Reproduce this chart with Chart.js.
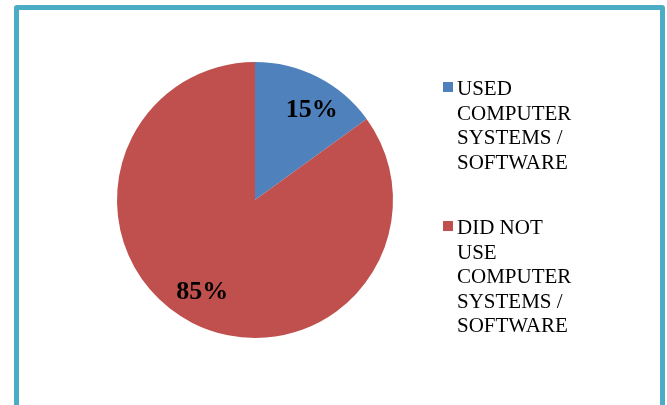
<!DOCTYPE html>
<html>
<head>
<meta charset="utf-8">
<script src="https://cdn.jsdelivr.net/npm/chart.js@4"></script>
<style>
  html, body { margin: 0; padding: 0; background: #ffffff; }
  #wrap { position: relative; width: 667px; height: 405px; overflow: hidden; background: #fff; }
  #frame { position: absolute; left: 14px; top: 5px; width: 641px; height: 440px;
           border: 5px solid #4BACC6; border-radius: 3px; box-sizing: content-box; }
  canvas { position: absolute; left: 0; top: 0; }
  .probe { font-family: "Liberation Serif"; position: absolute; left: -999px; }
</style>
</head>
<body>
<div id="wrap">
  <div id="frame"></div>
  <canvas id="c" width="667" height="405"></canvas>
</div>
<span class="probe">x</span><b class="probe">x</b>
<script>
// ---- data ----
const categories = ["USED COMPUTER SYSTEMS / SOFTWARE", "DID NOT USE COMPUTER SYSTEMS / SOFTWARE"];
const shares = [15, 85];
const valueLabels = ["15%", "85%"];
const sliceColors = ["#4F81BD", "#C0504D"];

const serif = '"Liberation Serif", "Times New Roman", Times, serif';

function wrapWords(ctx, text, maxW) {
  const words = text.split(" ");
  const lines = [];
  let cur = "";
  for (const w of words) {
    const t = cur ? cur + " " + w : w;
    if (cur && ctx.measureText(t).width > maxW) { lines.push(cur); cur = w; }
    else cur = t;
  }
  if (cur) lines.push(cur);
  return lines;
}

const labelPlugin = {
  id: "sliceLabels",
  afterDatasetsDraw(chart) {
    const ctx = chart.ctx;
    const meta = chart.getDatasetMeta(0);
    ctx.save();
    ctx.font = "bold 26px " + serif;
    ctx.fillStyle = "#000";
    ctx.textAlign = "center";
    ctx.textBaseline = "middle";
    meta.data.forEach((arc, i) => {
      const p = arc.getProps(["x", "y", "startAngle", "endAngle", "outerRadius"], true);
      const mid = (p.startAngle + p.endAngle) / 2 + 0.07;
      const r = p.outerRadius * 0.77;
      ctx.fillText(valueLabels[i], p.x + Math.cos(mid) * r + 2, p.y + Math.sin(mid) * r + 1);
    });
    ctx.restore();
  }
};

const legendPlugin = {
  id: "wrapLegend",
  afterDraw(chart) {
    const ctx = chart.ctx;
    ctx.save();
    ctx.font = "21px " + serif;
    ctx.textAlign = "left";
    ctx.textBaseline = "alphabetic";
    const x0 = 443, lineH = 24.5, itemGap = 41;
    let y = 95;
    chart.data.labels.forEach((lab, i) => {
      const lines = wrapWords(ctx, lab, 120);
      ctx.fillStyle = chart.data.datasets[0].backgroundColor[i];
      ctx.fillRect(x0, y - 13, 10, 10);
      ctx.fillStyle = "#000";
      lines.forEach((ln, k) => ctx.fillText(ln, x0 + 14, y + k * lineH));
      y += lines.length * lineH + itemGap;
    });
    ctx.restore();
  }
};

function build() {
  new Chart(document.getElementById("c"), {
    type: "pie",
    data: {
      labels: categories,
      datasets: [{
        data: shares,
        backgroundColor: sliceColors,
        borderWidth: 0
      }]
    },
    options: {
      responsive: false,
      animation: false,
      layout: { padding: { left: 117, right: 274, top: 62, bottom: 67 } },
      plugins: {
        legend: { display: false },
        tooltip: { enabled: false }
      }
    },
    plugins: [labelPlugin, legendPlugin]
  });
}

Promise.all([
  document.fonts.load('21px "Liberation Serif"'),
  document.fonts.load('bold 26px "Liberation Serif"')
]).then(build, build);
</script>
</body>
</html>
